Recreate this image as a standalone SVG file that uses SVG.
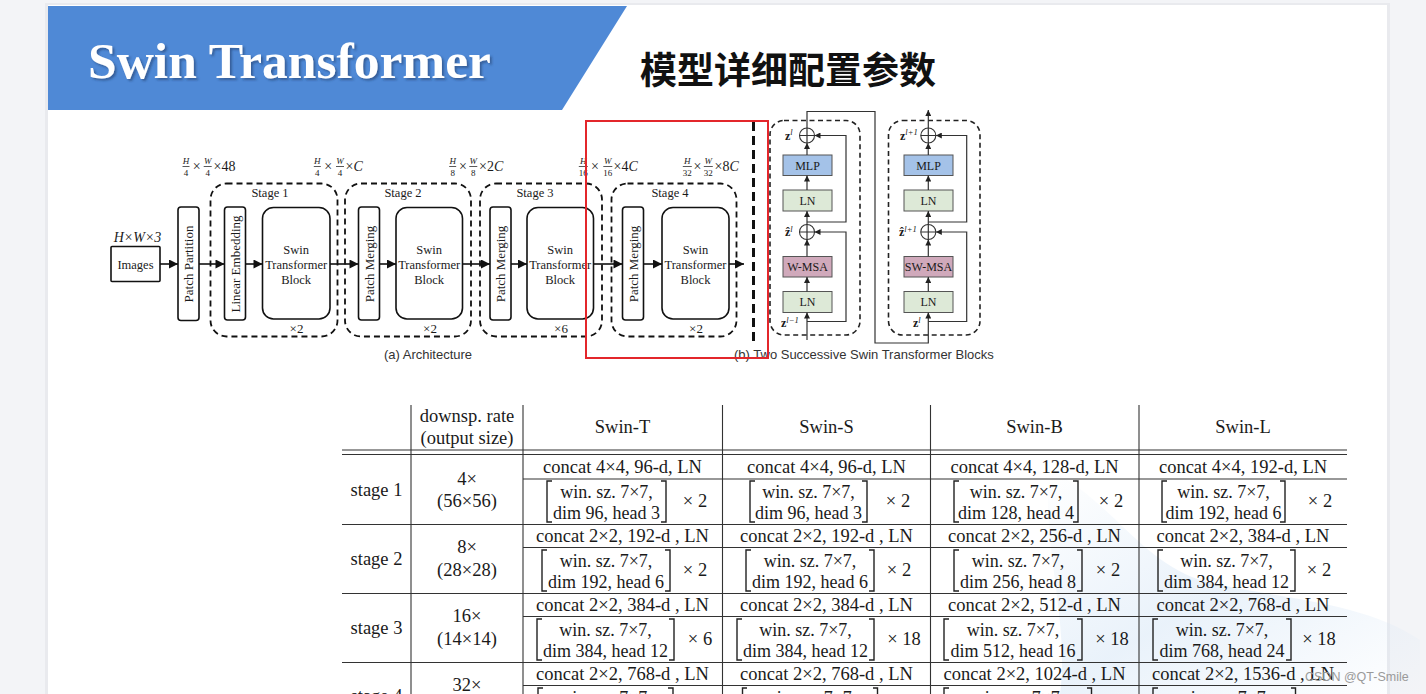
<svg xmlns="http://www.w3.org/2000/svg" width="1426" height="694" viewBox="0 0 1426 694">
<defs>
<style>
.serif{font-family:"Liberation Serif","Times New Roman",serif;fill:#1a1a1a}
.sans{font-family:"Liberation Sans",Arial,sans-serif;fill:#333}
.box{fill:#fff;stroke:#111;stroke-width:1.6}
.stage{fill:none;stroke:#111;stroke-width:1.8;stroke-dasharray:6 4}
.flow{stroke:#111;stroke-width:1.6;fill:none}
.bl{stroke:#333;stroke-width:1.2;fill:none}
.bdash{fill:none;stroke:#222;stroke-width:1.6;stroke-dasharray:5 3.5}
.mlp{fill:#a4c2e8;stroke:#555;stroke-width:1}
.ln{fill:#dde9d7;stroke:#555;stroke-width:1}
.msa{fill:#d0a9bb;stroke:#555;stroke-width:1}
.t12{font-size:12.5px}
.t13{font-size:13px}
.tab{font-family:"Liberation Serif","Times New Roman",serif;font-size:18.5px;fill:#1a1a1a;text-anchor:middle}
.bt{font-size:18px}
.tl{stroke:#333;stroke-width:1.1}
.br{fill:none;stroke:#222;stroke-width:1.4}
.frac{font-size:9px;text-anchor:middle}
.mid{text-anchor:middle}
.zl{font-family:"Liberation Serif","Times New Roman",serif;fill:#1a1a1a;font-size:12px;font-weight:bold}
.sup{font-size:8.5px;font-weight:normal;font-style:italic}
</style>
<marker id="ah" viewBox="0 0 10 10" refX="10" refY="5" markerWidth="10" markerHeight="9" orient="auto" markerUnits="userSpaceOnUse"><path d="M0,0 L10,5 L0,10 z" fill="#111"/></marker>
<marker id="sa" viewBox="0 0 10 10" refX="10" refY="5" markerWidth="6" markerHeight="6" orient="auto" markerUnits="userSpaceOnUse"><path d="M0,0 L10,5 L0,10 z" fill="#222"/></marker>
<filter id="ts" x="-5%" y="-20%" width="110%" height="140%"><feDropShadow dx="2" dy="2" stdDeviation="1.2" flood-color="#1b3a66" flood-opacity="0.55"/></filter>
<linearGradient id="wm" x1="0" y1="0" x2="1" y2="1"><stop offset="0" stop-color="#cfe2f5" stop-opacity="0"/><stop offset="0.5" stop-color="#cfe2f5" stop-opacity="0.45"/><stop offset="1" stop-color="#cfe2f5" stop-opacity="0"/></linearGradient>
</defs>

<!-- background / slide -->
<rect x="0" y="0" width="1426" height="694" fill="#f3f4f7"/>
<rect x="45" y="3" width="1345" height="691" fill="#e9eaee"/>
<rect x="48" y="5" width="1339" height="689" fill="#ffffff"/>
<path d="M1050,470 C1110,500 1140,560 1200,580 C1280,600 1360,600 1420,640 L1420,694 L1060,694 C1070,620 1040,540 1050,470 z" fill="url(#wm)"/>

<!-- header -->
<g id="header">
<polygon points="48,6 627,6 562,110 48,110" fill="#4f89d6"/>
<text x="88" y="78" font-family="Liberation Serif,'Times New Roman',serif" font-weight="bold" font-size="51.5" fill="#ffffff" filter="url(#ts)">Swin Transformer</text>
<text x="640" y="84" font-family="'Noto Sans CJK SC','Noto Sans',sans-serif" font-weight="bold" font-size="37" fill="#111">模型详细配置参数</text>
</g>

<!-- (a) architecture -->
<g id="arch-labels" class="serif">
<text x="137.5" y="242" class="mid" font-size="14" font-style="italic">H×W×3</text>
<text x="186" y="164" class="frac" font-style="italic">H</text><line x1="182.5" y1="166.5" x2="189.5" y2="166.5" stroke="#111" stroke-width="0.7"/><text x="186" y="175.5" class="frac">4</text>
<text x="196.7" y="170.5" class="mid" font-size="14">×</text>
<text x="207.7" y="164" class="frac" font-style="italic">W</text><line x1="203.7" y1="166.5" x2="211.7" y2="166.5" stroke="#111" stroke-width="0.7"/><text x="207.7" y="175.5" class="frac">4</text>
<text x="213.5" y="170.5" font-size="14">×48</text>

<text x="317.3" y="164" class="frac" font-style="italic">H</text><line x1="313.8" y1="166.5" x2="320.8" y2="166.5" stroke="#111" stroke-width="0.7"/><text x="317.3" y="175.5" class="frac">4</text>
<text x="328.3" y="170.5" class="mid" font-size="14">×</text>
<text x="340" y="164" class="frac" font-style="italic">W</text><line x1="336" y1="166.5" x2="344" y2="166.5" stroke="#111" stroke-width="0.7"/><text x="340" y="175.5" class="frac">4</text>
<text x="345.5" y="170.5" font-size="14">×<tspan font-style="italic">C</tspan></text>

<text x="452.7" y="164" class="frac" font-style="italic">H</text><line x1="449.2" y1="166.5" x2="456.2" y2="166.5" stroke="#111" stroke-width="0.7"/><text x="452.7" y="175.5" class="frac">8</text>
<text x="463" y="170.5" class="mid" font-size="14">×</text>
<text x="473.3" y="164" class="frac" font-style="italic">W</text><line x1="469.3" y1="166.5" x2="477.3" y2="166.5" stroke="#111" stroke-width="0.7"/><text x="473.3" y="175.5" class="frac">8</text>
<text x="479" y="170.5" font-size="14">×2<tspan font-style="italic">C</tspan></text>

<text x="583.3" y="164" class="frac" font-style="italic">H</text><line x1="578.8" y1="166.5" x2="587.8" y2="166.5" stroke="#111" stroke-width="0.7"/><text x="583.3" y="175.5" class="frac">16</text>
<text x="595" y="170.5" class="mid" font-size="14">×</text>
<text x="607.8" y="164" class="frac" font-style="italic">W</text><line x1="603.3" y1="166.5" x2="612.3" y2="166.5" stroke="#111" stroke-width="0.7"/><text x="607.8" y="175.5" class="frac">16</text>
<text x="613.5" y="170.5" font-size="14">×4<tspan font-style="italic">C</tspan></text>

<text x="687.3" y="164" class="frac" font-style="italic">H</text><line x1="682.8" y1="166.5" x2="691.8" y2="166.5" stroke="#111" stroke-width="0.7"/><text x="687.3" y="175.5" class="frac">32</text>
<text x="697.5" y="170.5" class="mid" font-size="14">×</text>
<text x="708.3" y="164" class="frac" font-style="italic">W</text><line x1="703.8" y1="166.5" x2="712.8" y2="166.5" stroke="#111" stroke-width="0.7"/><text x="708.3" y="175.5" class="frac">32</text>
<text x="714.5" y="170.5" font-size="14">×8<tspan font-style="italic">C</tspan></text>
</g>

<g id="stage1">
<rect x="210.5" y="183.5" width="127" height="153" rx="16" class="stage"/>
<text x="270" y="197" class="serif mid t12">Stage 1</text>
<text x="296.5" y="333" class="serif mid t13">×2</text>
</g>
<g id="stage2">
<rect x="345" y="183.5" width="126" height="153" rx="16" class="stage"/>
<text x="403" y="197" class="serif mid t12">Stage 2</text>
<text x="430" y="333" class="serif mid t13">×2</text>
</g>
<g id="stage3">
<rect x="480" y="183.5" width="122" height="153" rx="16" class="stage"/>
<text x="535" y="197" class="serif mid t12">Stage 3</text>
<text x="561" y="333" class="serif mid t13">×6</text>
</g>
<g id="stage4">
<rect x="611.5" y="183.5" width="125" height="153" rx="16" class="stage"/>
<text x="670" y="197" class="serif mid t12">Stage 4</text>
<text x="696" y="333" class="serif mid t13">×2</text>
</g>

<g id="images">
<rect x="111" y="246.5" width="49" height="35" class="box" rx="1"/>
<text x="135.5" y="268.5" class="serif mid t12">Images</text>
</g>
<g id="patch-partition">
<rect x="178" y="207" width="21" height="113.5" rx="3" class="box"/>
<text transform="translate(193,264) rotate(-90)" class="serif mid t13">Patch Partition</text>
</g>
<g id="linear-embedding">
<rect x="224.5" y="207" width="21" height="113" rx="3" class="box"/>
<text transform="translate(239.5,264) rotate(-90)" class="serif mid t13">Linear Embedding</text>
</g>
<g id="swin-block-1">
<rect x="262.5" y="207.5" width="67.5" height="111.5" rx="11" class="box"/>
<text x="296.2" y="254" class="serif mid t12">Swin</text>
<text x="296.2" y="269" class="serif mid t12">Transformer</text>
<text x="296.2" y="283.5" class="serif mid t12">Block</text>
</g>
<g id="patch-merging-2">
<rect x="358.5" y="207" width="21" height="113" rx="3" class="box"/>
<text transform="translate(373.5,264) rotate(-90)" class="serif mid t13">Patch Merging</text>
</g>
<g id="swin-block-2">
<rect x="396" y="207.5" width="66.5" height="111.5" rx="11" class="box"/>
<text x="429.2" y="254" class="serif mid t12">Swin</text>
<text x="429.2" y="269" class="serif mid t12">Transformer</text>
<text x="429.2" y="283.5" class="serif mid t12">Block</text>
</g>
<g id="patch-merging-3">
<rect x="490" y="207" width="21" height="113" rx="3" class="box"/>
<text transform="translate(505,264) rotate(-90)" class="serif mid t13">Patch Merging</text>
</g>
<g id="swin-block-3">
<rect x="527" y="207.5" width="66.5" height="111.5" rx="11" class="box"/>
<text x="560.2" y="254" class="serif mid t12">Swin</text>
<text x="560.2" y="269" class="serif mid t12">Transformer</text>
<text x="560.2" y="283.5" class="serif mid t12">Block</text>
</g>
<g id="patch-merging-4">
<rect x="622.5" y="207" width="21" height="113" rx="3" class="box"/>
<text transform="translate(637.5,264) rotate(-90)" class="serif mid t13">Patch Merging</text>
</g>
<g id="swin-block-4">
<rect x="662" y="207.5" width="67" height="111.5" rx="11" class="box"/>
<text x="695.5" y="254" class="serif mid t12">Swin</text>
<text x="695.5" y="269" class="serif mid t12">Transformer</text>
<text x="695.5" y="283.5" class="serif mid t12">Block</text>
</g>

<g id="arch-connectors">
<line x1="160" y1="264" x2="178" y2="264" class="flow" marker-end="url(#ah)"/>
<line x1="199" y1="264" x2="224.5" y2="264" class="flow" marker-end="url(#ah)"/>
<line x1="245.5" y1="264" x2="262.5" y2="264" class="flow" marker-end="url(#ah)"/>
<line x1="330" y1="264" x2="358.5" y2="264" class="flow" marker-end="url(#ah)"/>
<line x1="379.5" y1="264" x2="396" y2="264" class="flow" marker-end="url(#ah)"/>
<line x1="462.5" y1="264" x2="490" y2="264" class="flow" marker-end="url(#ah)"/>
<line x1="511" y1="264" x2="527" y2="264" class="flow" marker-end="url(#ah)"/>
<line x1="593.5" y1="264" x2="622.5" y2="264" class="flow" marker-end="url(#ah)"/>
<line x1="643.5" y1="264" x2="662" y2="264" class="flow" marker-end="url(#ah)"/>
<line x1="729" y1="264" x2="744" y2="264" class="flow" marker-end="url(#ah)"/>
</g>
<line x1="753.5" y1="122" x2="753.5" y2="341" stroke="#111" stroke-width="3" stroke-dasharray="9 5"/>
<text x="428" y="359" class="sans mid t13">(a) Architecture</text>

<!-- (b) two blocks -->
<g id="block-w">
<rect x="770" y="120.5" width="90" height="214.5" rx="14" class="bdash"/>
<rect x="783" y="155" width="49" height="20.5" class="mlp"/><text x="807.5" y="169.5" class="serif mid" font-size="12">MLP</text>
<rect x="783" y="190" width="49" height="21" class="ln"/><text x="807.5" y="204.5" class="serif mid" font-size="12">LN</text>
<rect x="783" y="256.5" width="49" height="20.5" class="msa"/><text x="807.5" y="271" class="serif mid" font-size="12">W-MSA</text>
<rect x="783" y="291.5" width="49" height="21" class="ln"/><text x="807.5" y="306" class="serif mid" font-size="12">LN</text>
<circle cx="807" cy="135.5" r="7.5" fill="#fff" stroke="#333" stroke-width="1.1"/><path d="M799.5,135.5 H814.5 M807,128 V143" class="bl"/>
<circle cx="807" cy="232" r="7.5" fill="#fff" stroke="#333" stroke-width="1.1"/><path d="M799.5,232 H814.5 M807,224.5 V239.5" class="bl"/>
<text x="785" y="139.5" class="zl">z<tspan class="sup" dy="-4.5">l</tspan></text>
<text x="785" y="236" class="zl">ẑ<tspan class="sup" dy="-4.5">l</tspan></text>
<text x="781" y="327" class="zl">z<tspan class="sup" dy="-4.5">l−1</tspan></text>
</g>
<g id="block-sw">
<rect x="888.5" y="120.5" width="91.5" height="214.5" rx="14" class="bdash"/>
<rect x="904" y="155" width="49" height="20.5" class="mlp"/><text x="928.5" y="169.5" class="serif mid" font-size="12">MLP</text>
<rect x="904" y="190" width="49" height="21" class="ln"/><text x="928.5" y="204.5" class="serif mid" font-size="12">LN</text>
<rect x="904" y="256.5" width="49" height="20.5" class="msa"/><text x="928.5" y="271" class="serif mid" font-size="12">SW-MSA</text>
<rect x="904" y="291.5" width="49" height="21" class="ln"/><text x="928.5" y="306" class="serif mid" font-size="12">LN</text>
<circle cx="928.3" cy="135.5" r="7.5" fill="#fff" stroke="#333" stroke-width="1.1"/><path d="M920.8,135.5 H935.8 M928.3,128 V143" class="bl"/>
<circle cx="928.3" cy="232" r="7.5" fill="#fff" stroke="#333" stroke-width="1.1"/><path d="M920.8,232 H935.8 M928.3,224.5 V239.5" class="bl"/>
<text x="900" y="139.5" class="zl">z<tspan class="sup" dy="-4.5">l+1</tspan></text>
<text x="899" y="236" class="zl">ẑ<tspan class="sup" dy="-4.5">l+1</tspan></text>
<text x="913" y="327" class="zl">z<tspan class="sup" dy="-4.5">l</tspan></text>
</g>
<g id="block-connectors">
<line x1="807" y1="340" x2="807" y2="312.5" class="bl" marker-end="url(#sa)"/>
<line x1="807" y1="291.5" x2="807" y2="277" class="bl" marker-end="url(#sa)"/>
<line x1="807" y1="256.5" x2="807" y2="239.5" class="bl" marker-end="url(#sa)"/>
<line x1="807" y1="224.5" x2="807" y2="211" class="bl" marker-end="url(#sa)"/>
<line x1="807" y1="190" x2="807" y2="175.5" class="bl" marker-end="url(#sa)"/>
<line x1="807" y1="155" x2="807" y2="143" class="bl" marker-end="url(#sa)"/>
<path d="M807,321.5 H846 V232 H814.5" class="bl" marker-end="url(#sa)"/>
<path d="M807,222 H846 V135.5 H814.5" class="bl" marker-end="url(#sa)"/>
<path d="M807,128 V111.5 H875 V343 H928.3 V312.5" class="bl" marker-end="url(#sa)"/>
<line x1="928.3" y1="291.5" x2="928.3" y2="277" class="bl" marker-end="url(#sa)"/>
<line x1="928.3" y1="256.5" x2="928.3" y2="239.5" class="bl" marker-end="url(#sa)"/>
<line x1="928.3" y1="224.5" x2="928.3" y2="211" class="bl" marker-end="url(#sa)"/>
<line x1="928.3" y1="190" x2="928.3" y2="175.5" class="bl" marker-end="url(#sa)"/>
<line x1="928.3" y1="155" x2="928.3" y2="143" class="bl" marker-end="url(#sa)"/>
<path d="M928.3,321.5 H966.7 V232 H935.8" class="bl" marker-end="url(#sa)"/>
<path d="M928.3,222 H966.7 V135.5 H935.8" class="bl" marker-end="url(#sa)"/>
<line x1="928.3" y1="128" x2="928.3" y2="110" class="bl" marker-end="url(#sa)"/>
</g>
<text x="734" y="359" class="sans t13">(b) Two Successive Swin Transformer Blocks</text>
<rect x="586" y="121" width="182" height="237" fill="none" stroke="#e3262b" stroke-width="2"/>

<!-- table -->
<g id="table-lines">
<line x1="411" y1="405" x2="411" y2="694" class="tl"/>
<line x1="523" y1="405" x2="523" y2="694" class="tl"/>
<line x1="722.5" y1="405" x2="722.5" y2="694" class="tl"/>
<line x1="930.5" y1="405" x2="930.5" y2="694" class="tl"/>
<line x1="1139" y1="405" x2="1139" y2="694" class="tl"/>
<line x1="342" y1="450" x2="1347" y2="450" class="tl"/>
<line x1="342" y1="454.5" x2="1347" y2="454.5" class="tl"/>
<line x1="342" y1="524.5" x2="1347" y2="524.5" class="tl"/>
<line x1="342" y1="593.5" x2="1347" y2="593.5" class="tl"/>
<line x1="342" y1="662.5" x2="1347" y2="662.5" class="tl"/>
<line x1="523" y1="479" x2="1347" y2="479" class="tl"/>
<line x1="523" y1="547.5" x2="1347" y2="547.5" class="tl"/>
<line x1="523" y1="616.5" x2="1347" y2="616.5" class="tl"/>
<line x1="523" y1="685.5" x2="1347" y2="685.5" class="tl"/>
</g>
<g id="table-header">
<text x="467" y="422" class="tab">downsp. rate</text>
<text x="467" y="444" class="tab">(output size)</text>
<text x="622.5" y="433" class="tab">Swin-T</text>
<text x="826.5" y="433" class="tab">Swin-S</text>
<text x="1034.5" y="433" class="tab">Swin-B</text>
<text x="1243" y="433" class="tab">Swin-L</text>
</g>
<g id="row-stage1">
<text x="376.5" y="496" class="tab">stage 1</text>
<text x="467" y="485" class="tab">4×</text>
<text x="467" y="507" class="tab">(56×56)</text>
<text x="622.5" y="473" class="tab">concat 4×4, 96-d, LN</text>
<text x="826.5" y="473" class="tab">concat 4×4, 96-d, LN</text>
<text x="1034.5" y="473" class="tab">concat 4×4, 128-d, LN</text>
<text x="1243" y="473" class="tab">concat 4×4, 192-d, LN</text>
<path d="M552,481 H547 V522 H552 M661,481 H666 V522 H661" class="br"/>
<text x="606.5" y="498" class="tab bt">win. sz. 7×7,</text><text x="606.5" y="519" class="tab bt">dim 96, head 3</text><text x="695" y="507" class="tab">× 2</text>
<path d="M755,481 H750 V522 H755 M862,481 H867 V522 H862" class="br"/>
<text x="808.5" y="498" class="tab bt">win. sz. 7×7,</text><text x="808.5" y="519" class="tab bt">dim 96, head 3</text><text x="898" y="507" class="tab">× 2</text>
<path d="M959,481 H954 V522 H959 M1073,481 H1078 V522 H1073" class="br"/>
<text x="1016" y="498" class="tab bt">win. sz. 7×7,</text><text x="1016" y="519" class="tab bt">dim 128, head 4</text><text x="1111" y="507" class="tab">× 2</text>
<path d="M1167,481 H1162 V522 H1167 M1280,481 H1285 V522 H1280" class="br"/>
<text x="1223.5" y="498" class="tab bt">win. sz. 7×7,</text><text x="1223.5" y="519" class="tab bt">dim 192, head 6</text><text x="1320" y="507" class="tab">× 2</text>
</g>
<g id="row-stage2">
<text x="376.5" y="565" class="tab">stage 2</text>
<text x="467" y="553" class="tab">8×</text>
<text x="467" y="576" class="tab">(28×28)</text>
<text x="622.5" y="542" class="tab">concat 2×2, 192-d , LN</text>
<text x="826.5" y="542" class="tab">concat 2×2, 192-d , LN</text>
<text x="1034.5" y="542" class="tab">concat 2×2, 256-d , LN</text>
<text x="1243" y="542" class="tab">concat 2×2, 384-d , LN</text>
<path d="M547,550 H542 V591 H547 M665,550 H670 V591 H665" class="br"/>
<text x="606" y="567" class="tab bt">win. sz. 7×7,</text><text x="606" y="588" class="tab bt">dim 192, head 6</text><text x="695" y="576" class="tab">× 2</text>
<path d="M751,550 H746 V591 H751 M869,550 H874 V591 H869" class="br"/>
<text x="810" y="567" class="tab bt">win. sz. 7×7,</text><text x="810" y="588" class="tab bt">dim 192, head 6</text><text x="899" y="576" class="tab">× 2</text>
<path d="M959,550 H954 V591 H959 M1077,550 H1082 V591 H1077" class="br"/>
<text x="1018" y="567" class="tab bt">win. sz. 7×7,</text><text x="1018" y="588" class="tab bt">dim 256, head 8</text><text x="1108" y="576" class="tab">× 2</text>
<path d="M1163,550 H1158 V591 H1163 M1290,550 H1295 V591 H1290" class="br"/>
<text x="1226.5" y="567" class="tab bt">win. sz. 7×7,</text><text x="1226.5" y="588" class="tab bt">dim 384, head 12</text><text x="1319" y="576" class="tab">× 2</text>
</g>
<g id="row-stage3">
<text x="376.5" y="634" class="tab">stage 3</text>
<text x="467" y="622" class="tab">16×</text>
<text x="467" y="645" class="tab">(14×14)</text>
<text x="622.5" y="611" class="tab">concat 2×2, 384-d , LN</text>
<text x="826.5" y="611" class="tab">concat 2×2, 384-d , LN</text>
<text x="1034.5" y="611" class="tab">concat 2×2, 512-d , LN</text>
<text x="1243" y="611" class="tab">concat 2×2, 768-d , LN</text>
<path d="M542,619 H537 V660 H542 M669,619 H674 V660 H669" class="br"/>
<text x="605.5" y="636" class="tab bt">win. sz. 7×7,</text><text x="605.5" y="657" class="tab bt">dim 384, head 12</text><text x="700" y="645" class="tab">× 6</text>
<path d="M742,619 H737 V660 H742 M869,619 H874 V660 H869" class="br"/>
<text x="805.5" y="636" class="tab bt">win. sz. 7×7,</text><text x="805.5" y="657" class="tab bt">dim 384, head 12</text><text x="904" y="645" class="tab">× 18</text>
<path d="M949,619 H944 V660 H949 M1077,619 H1082 V660 H1077" class="br"/>
<text x="1013" y="636" class="tab bt">win. sz. 7×7,</text><text x="1013" y="657" class="tab bt">dim 512, head 16</text><text x="1112" y="645" class="tab">× 18</text>
<path d="M1158,619 H1153 V660 H1158 M1286,619 H1291 V660 H1286" class="br"/>
<text x="1222" y="636" class="tab bt">win. sz. 7×7,</text><text x="1222" y="657" class="tab bt">dim 768, head 24</text><text x="1319" y="645" class="tab">× 18</text>
</g>
<g id="row-stage4">
<text x="376.5" y="702" class="tab">stage 4</text>
<text x="467" y="691" class="tab">32×</text>
<text x="622.5" y="680" class="tab">concat 2×2, 768-d , LN</text>
<text x="826.5" y="680" class="tab">concat 2×2, 768-d , LN</text>
<text x="1034.5" y="680" class="tab">concat 2×2, 1024-d , LN</text>
<text x="1243" y="680" class="tab">concat 2×2, 1536-d , LN</text>
<path d="M543,688 H538 V700 M668,688 H673 V700" class="br"/>
<text x="605.5" y="704" class="tab bt">win. sz. 7×7,</text>
<path d="M747,688 H742.5 V700 M873,688 H877.5 V700" class="br"/>
<text x="810" y="704" class="tab bt">win. sz. 7×7,</text>
<path d="M949,688 H944 V700 M1087,688 H1091.5 V700" class="br"/>
<text x="1018" y="704" class="tab bt">win. sz. 7×7,</text>
<path d="M1158,688 H1153 V700 M1291,688 H1295.5 V700" class="br"/>
<text x="1224" y="704" class="tab bt">win. sz. 7×7,</text>
</g>
<text x="1305" y="681" font-family="Liberation Sans,Arial,sans-serif" font-size="12.5" fill="#9a9a9a">CSDN @QT-Smile</text>
</svg>
